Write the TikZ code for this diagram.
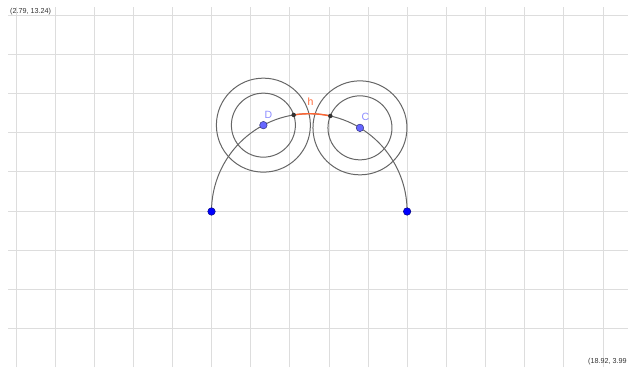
\documentclass[tikz,border=0pt]{standalone}
\usepackage{fontspec}
\setmainfont{Liberation Sans}
\definecolor{gridc}{HTML}{DDDDDD}
\definecolor{curvec}{HTML}{666666}
\definecolor{orangec}{HTML}{FF6633}
\definecolor{pointc}{HTML}{6666FF}
\definecolor{labelc}{HTML}{8C8CFF}
\definecolor{freec}{HTML}{0000FF}
\tikzset{
  gridline/.style={draw=gridc, line width=0.9pt},
  curve/.style={draw=curvec, line width=1pt},
  harc/.style={draw=orangec, line width=1.4pt},
  depdot/.style={circle, inner sep=0pt, minimum size=7.5pt, fill=pointc, draw=pointc!50!black, line width=0.5pt},
  freedot/.style={circle, inner sep=0pt, minimum size=7.5pt, fill=freec, draw=freec!50!black, line width=0.5pt},
  isodot/.style={circle, inner sep=0pt, minimum size=4.5pt, fill=black!80},
  ptlabel/.style={text=labelc, font=\fontsize{10.5}{11}\selectfont, inner sep=0pt},
  corner/.style={text=black!80, font=\fontsize{7.2}{8}\selectfont, inner sep=0pt},
}
\begin{document}
\begin{tikzpicture}[x=1pt, y=1pt]
\useasboundingbox (0,0) rectangle (628,367);
% grid
\foreach \i in {0,...,15} {
  \draw[gridline] ({16+39.13*\i},0) -- ({16+39.13*\i},360);
}
\foreach \k in {0,...,8} {
  \draw[gridline] (8,{352-39.2*\k}) -- (628,{352-39.2*\k});
}
% corner labels
\node[corner, anchor=west] (tl) at (10,355) {(2.79, 13.24)};
\node[corner, anchor=west] (br) at (588,5.5) {(18.92, 3.99};
% geometry
\coordinate (O) at (309.3,155.5);
\coordinate (A) at ([shift={(180:97.8)}]O);
\coordinate (B) at ([shift={(0:97.8)}]O);
\coordinate (D) at ([shift={(118:97.8)}]O);
\coordinate (C) at ([shift={(58.8:97.8)}]O);
\coordinate (P) at ([shift={(99.2:97.8)}]O);
\coordinate (Q) at ([shift={(77.6:97.8)}]O);
% circles
\draw[curve] (D) circle[radius=32pt];
\draw[curve] (D) circle[radius=47pt];
\draw[curve] (C) circle[radius=32pt];
\draw[curve] (C) circle[radius=47pt];
% big arc
\draw[curve] (B) arc[start angle=0, end angle=180, radius=97.8pt];
% arc h
\draw[harc] (Q) arc[start angle=77.6, end angle=99.2, radius=97.8pt];
\node[text=orangec, font=\fontsize{10.5}{11}\selectfont, inner sep=0pt] (h) at (310.5,265.5) {h};
% points
\node[isodot] (p1) at (P) {};
\node[isodot] (p2) at (Q) {};
\node[depdot] (nD) at (D) {};
\node[depdot] (nC) at (C) {};
\node[freedot] (nA) at (A) {};
\node[freedot] (nB) at (B) {};
\node[ptlabel] (lD) at (268.5,252) {D};
\node[ptlabel] (lC) at (365.5,250) {C};
\end{tikzpicture}
\end{document}
